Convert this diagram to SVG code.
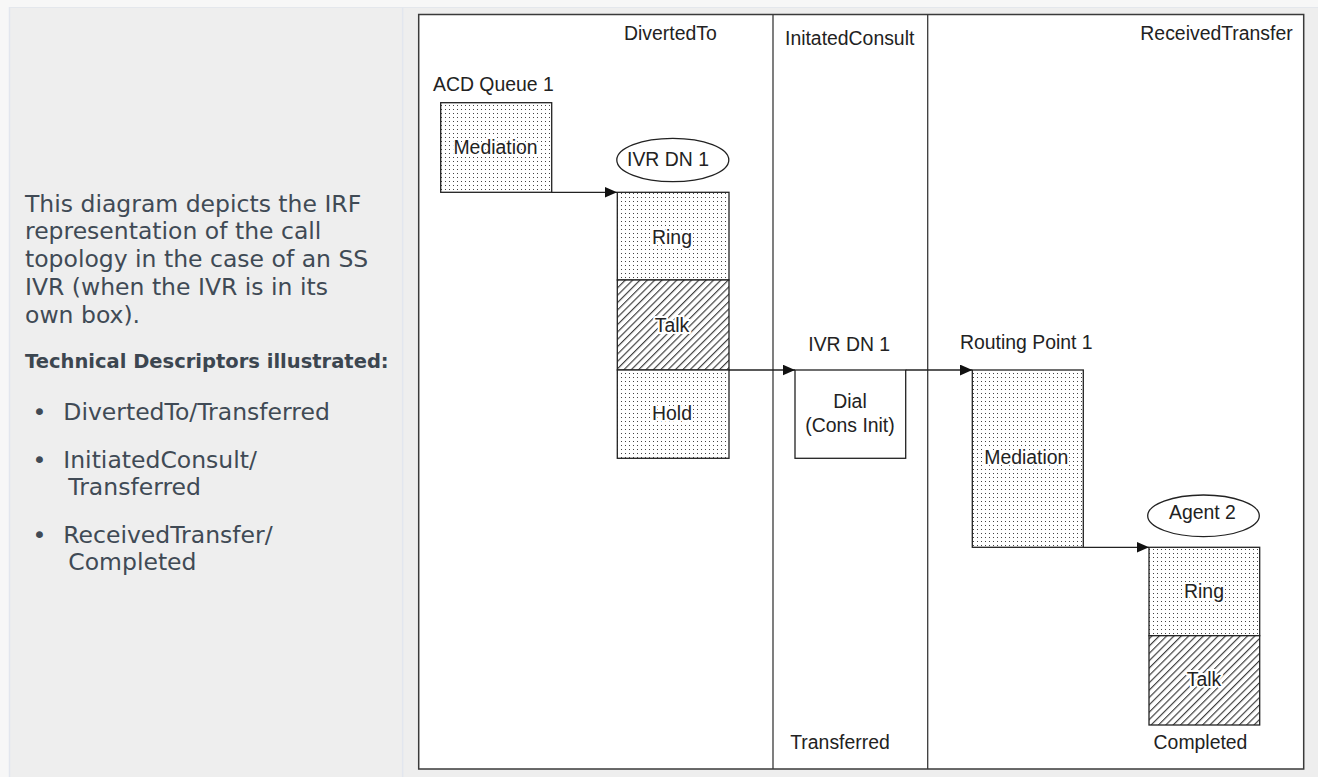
<svg xmlns="http://www.w3.org/2000/svg" width="1318" height="777" viewBox="0 0 1318 777">
<style>
.pt{font-family:"DejaVu Sans","Noto Sans",sans-serif;font-size:23.5px;fill:#404a55}
.ptb{font-family:"DejaVu Sans","Noto Sans",sans-serif;font-size:19.5px;font-weight:bold;fill:#3c4650}
.t{font-family:"Liberation Sans",Arial,sans-serif;font-size:19.4px;fill:#222}
.tc{font-family:"Liberation Sans",Arial,sans-serif;font-size:19.4px;fill:#222;text-anchor:middle}
.halo{paint-order:stroke;stroke:#fff;stroke-width:4;stroke-linejoin:round}
.box{stroke:#222;stroke-width:1.3}
.dot{fill:url(#dots)}
.hatch{fill:url(#hatch)}
.wire{stroke:#222;stroke-width:1.3;fill:none;marker-end:url(#arr)}
</style>
<defs>
<pattern id="dots" patternUnits="userSpaceOnUse" width="4" height="4">
<rect width="4" height="4" fill="#fff"/>
<rect x="1" y="1" width="1" height="1" fill="#444"/>
</pattern>
<pattern id="hatch" patternUnits="userSpaceOnUse" width="5.2" height="10" patternTransform="rotate(45)">
<rect width="5.2" height="10" fill="#fff"/>
<line x1="0.6" y1="0" x2="0.6" y2="10" stroke="#333" stroke-width="1.1"/>
</pattern>
<marker id="arr" markerUnits="userSpaceOnUse" markerWidth="13" markerHeight="11" refX="12.5" refY="5.5" orient="auto">
<path d="M0,0 L12.5,5.5 L0,11 Z" fill="#111"/>
</marker>
</defs>

<rect width="1318" height="777" fill="#f7f7f7"/>
<rect x="9" y="7" width="1309" height="770" fill="#eeeeee"/>
<line x1="9" y1="7.5" x2="1318" y2="7.5" stroke="#e4e7ec" stroke-width="1"/>
<line x1="9.5" y1="7" x2="9.5" y2="777" stroke="#e2e6ee" stroke-width="1.5"/>
<line x1="402.7" y1="7" x2="402.7" y2="777" stroke="#e2e6ee" stroke-width="1.5"/>

<g id="description">
<text class="pt" x="25" y="211.5">This diagram depicts the IRF</text>
<text class="pt" x="25" y="239.3">representation of the call</text>
<text class="pt" x="25" y="267.2">topology in the case of an SS</text>
<text class="pt" x="25" y="295">IVR (when the IVR is in its</text>
<text class="pt" x="25" y="322.8">own box).</text>
<text class="ptb" x="25" y="368.3">Technical Descriptors illustrated:</text>
<text class="pt" x="32.5" y="420">•</text>
<text class="pt" x="63.3" y="420">DivertedTo/Transferred</text>
<text class="pt" x="32.5" y="467.7">•</text>
<text class="pt" x="63.3" y="467.7">InitiatedConsult/</text>
<text class="pt" x="68.3" y="495.3">Transferred</text>
<text class="pt" x="32.5" y="542.7">•</text>
<text class="pt" x="63.3" y="542.7">ReceivedTransfer/</text>
<text class="pt" x="68.3" y="570.3">Completed</text>
</g>

<g id="frame">
<rect x="418.7" y="14.5" width="885" height="754.5" fill="#fff" stroke="#3a3a3a" stroke-width="1.5"/>
<line x1="773" y1="14.5" x2="773" y2="769" stroke="#3a3a3a" stroke-width="1.3"/>
<line x1="927.7" y1="14.5" x2="927.7" y2="769" stroke="#3a3a3a" stroke-width="1.3"/>
<text class="t" x="624" y="40">DivertedTo</text>
<text class="t" x="785" y="45">InitatedConsult</text>
<text class="t" x="1292.7" y="40" text-anchor="end">ReceivedTransfer</text>
<text class="tc" x="840" y="749.3">Transferred</text>
<text class="tc" x="1200.5" y="749.3">Completed</text>
</g>

<g id="acd-queue-1">
<text class="t" x="433" y="91">ACD Queue 1</text>
<rect class="box dot" x="440.7" y="102.7" width="111" height="89.6"/>
<text class="tc halo" x="495.5" y="154">Mediation</text>
</g>

<g id="ivr-dn-1-divert">
<ellipse cx="672.8" cy="160" rx="56" ry="21.7" fill="#fff" stroke="#222" stroke-width="1.3"/>
<text class="tc" x="668" y="166">IVR DN 1</text>
<rect class="box dot" x="617.3" y="192.3" width="111.7" height="87.7"/>
<rect class="box hatch" x="617.3" y="280" width="111.7" height="90"/>
<rect class="box dot" x="617.3" y="370" width="111.7" height="88.3"/>
<text class="tc halo" x="672" y="243.5">Ring</text>
<text class="tc halo" x="672" y="331.7">Talk</text>
<text class="tc halo" x="672" y="420">Hold</text>
</g>

<g id="ivr-dn-1-consult">
<text class="tc" x="849.2" y="350.7">IVR DN 1</text>
<rect class="box" x="795" y="370" width="110.7" height="88.3" fill="#fff"/>
<text class="tc" x="850" y="408.3">Dial</text>
<text class="tc" x="850" y="431.7">(Cons Init)</text>
</g>

<g id="routing-point-1">
<text class="t" x="960" y="349.3">Routing Point 1</text>
<rect class="box dot" x="972.3" y="370" width="111" height="177.3"/>
<text class="tc halo" x="1026.3" y="464">Mediation</text>
</g>

<g id="agent-2">
<ellipse cx="1203.5" cy="515.8" rx="55.8" ry="20.8" fill="#fff" stroke="#222" stroke-width="1.3"/>
<text class="tc" x="1202.5" y="519.3">Agent 2</text>
<rect class="box dot" x="1149" y="547.3" width="110.7" height="88.4"/>
<rect class="box hatch" x="1149" y="635.7" width="110.7" height="89.3"/>
<text class="tc halo" x="1204" y="598">Ring</text>
<text class="tc halo" x="1204" y="685.7">Talk</text>
</g>

<g id="connectors">
<line class="wire" x1="551.7" y1="192.3" x2="617" y2="192.3"/>
<line class="wire" x1="729" y1="370" x2="795" y2="370"/>
<line class="wire" x1="905.7" y1="370" x2="972.3" y2="370"/>
<line class="wire" x1="1083.3" y1="547.3" x2="1149" y2="547.3"/>
</g>
</svg>
